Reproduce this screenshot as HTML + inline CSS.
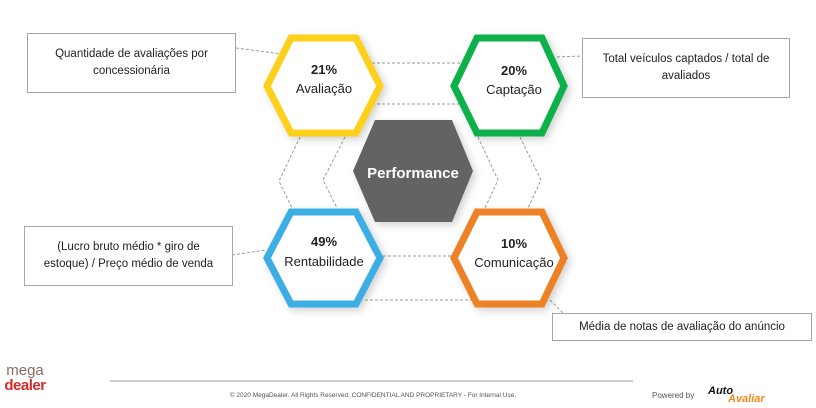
<!DOCTYPE html>
<html><head><meta charset="utf-8"><style>
html,body{margin:0;padding:0;background:#fff;}
body{width:816px;height:408px;position:relative;overflow:hidden;font-family:"Liberation Sans",sans-serif;}
.box{position:absolute;border:1.5px solid #a6a6a6;background:#fff;box-sizing:border-box;display:flex;align-items:center;justify-content:center;text-align:center;font-size:11.5px;color:#222;line-height:17px;}
</style></head><body>
<svg width="816" height="408" style="position:absolute;left:0;top:0">
<defs><filter id="sh" x="-30%" y="-30%" width="160%" height="160%"><feDropShadow dx="3" dy="3" stdDeviation="4" flood-color="#000" flood-opacity="0.18"/></filter></defs>
<g stroke="#9a9a9a" stroke-width="1" stroke-dasharray="3,2" fill="none">
<line x1="236" y1="48" x2="282" y2="54"/>
<line x1="372" y1="63" x2="462" y2="63"/>
<line x1="372" y1="104" x2="462" y2="104"/>
<line x1="557" y1="57" x2="582" y2="56"/>
<polyline points="300,137 279,181 292,208"/>
<polyline points="345,137 323,180 337,208"/>
<polyline points="478,137 498,180 485,208"/>
<polyline points="520,137 541,180 528,208"/>
<line x1="383" y1="256" x2="456" y2="256"/>
<line x1="365" y1="300" x2="480" y2="300"/>
<line x1="232" y1="255" x2="266" y2="250"/>
<line x1="550" y1="300" x2="563" y2="313"/>
</g>
<g fill="#fff" stroke-width="7" stroke-linejoin="miter" filter="url(#sh)">
<polygon points="267,86 291,38 356,38 380,86 356,133 291,133" stroke="#fdd01c"/>
<polygon points="454,86 477,38 542,38 564,86 542,133 477,133" stroke="#0bb04b"/>
<polygon points="267,258 291,212 356,212 380,258 356,304 291,304" stroke="#3daee4"/>
<polygon points="454,258 477,212 542,212 564,258 542,304 477,304" stroke="#ed8127"/>
<polygon points="353,171 375,120 452,120 473,171 452,222 375,222" fill="#636363" stroke="none"/>
</g>
<g font-family="Liberation Sans, sans-serif" text-anchor="middle" fill="#222">
<text x="324" y="74" font-size="13" font-weight="bold">21%</text>
<text x="324" y="93" font-size="13">Avaliação</text>
<text x="514" y="75" font-size="13" font-weight="bold">20%</text>
<text x="514" y="94" font-size="13">Captação</text>
<text x="324" y="246" font-size="13" font-weight="bold">49%</text>
<text x="324" y="266" font-size="13">Rentabilidade</text>
<text x="514" y="248" font-size="13" font-weight="bold">10%</text>
<text x="514" y="267" font-size="13">Comunicação</text>
<text x="413" y="178" font-size="15" font-weight="bold" fill="#fff">Performance</text>
</g>
<line x1="110" y1="381" x2="633" y2="381" stroke="#999" stroke-width="1"/>
<text x="373" y="397" font-size="6.5" fill="#555" text-anchor="middle" font-family="Liberation Sans, sans-serif">© 2020 MegaDealer. All Rights Reserved. CONFIDENTIAL AND PROPRIETARY - For Internal Use.</text>
<text x="25" y="375" font-size="15" fill="#8a6a60" text-anchor="middle" font-family="Liberation Sans, sans-serif">mega</text>
<text x="25" y="390" font-size="15" font-weight="bold" fill="#d42a2a" text-anchor="middle" font-family="Liberation Sans, sans-serif" letter-spacing="-0.5">dealer</text>
<text x="652" y="398" font-size="8" fill="#555" font-family="Liberation Sans, sans-serif">Powered by</text>
<text x="708" y="394" font-size="11" font-weight="bold" font-style="italic" fill="#111" font-family="Liberation Sans, sans-serif">Auto</text>
<text x="728" y="402" font-size="11" font-weight="bold" font-style="italic" fill="#f08a1c" font-family="Liberation Sans, sans-serif">Avaliar</text>
</svg>
<div class="box" style="left:27px;top:33px;width:209px;height:60px;">Quantidade de avaliações por<br>concessionária</div>
<div class="box" style="left:582px;top:38px;width:208px;height:60px;">Total veículos captados / total de<br>avaliados</div>
<div class="box" style="left:24px;top:226px;width:209px;height:60px;">(Lucro bruto médio * giro de<br>estoque) / Preço médio de venda</div>
<div class="box" style="left:552px;top:313px;width:260px;height:28px;">Média de notas de avaliação do anúncio</div>
</body></html>
